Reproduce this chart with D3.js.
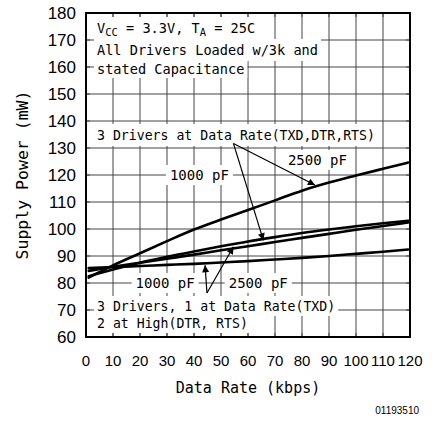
<!DOCTYPE html>
<html><head><meta charset="utf-8">
<script src="https://cdn.jsdelivr.net/npm/d3@7"></script>
<style>body{margin:0;background:#fff}svg{display:block}</style>
</head><body>
<svg id="c" width="433" height="429"></svg>
<script>
// ---- data ----
const xTicks = [0,10,20,30,40,50,60,70,80,90,100,110,120];
const yTicks = [60,70,80,90,100,110,120,130,140,150,160,170,180];
const rate = [1,10,20,30,40,50,60,70,80,90,100,110,119.3];
const p3drv2500 = [82,86.5,91,95.5,99.8,103.5,107,110.6,114.2,117.2,119.8,122.3,124.6];
const p3drv1000 = [82.5,85,87.5,89.7,91.7,93.6,95.4,97,98.5,99.8,101,102.1,103];
const p1drv2500 = [84.5,86,87.5,89,90.5,92.1,93.6,95.2,96.7,98.2,99.7,101.1,102.4];
const p1drv1000 = [85.5,85.9,86.3,86.7,87.1,87.6,88.1,88.7,89.3,90,90.8,91.6,92.4];
const series = [p3drv2500,p3drv1000,p1drv2500,p1drv1000];
// annotation arrows (data units): [from, to]
const arrows = [
  [[54.6,131.7],[84.8,116.3]],
  [[54.6,131.7],[65.7,95.8]],
  [[44.8,76.3],[44.1,86.6]],
  [[44.8,76.3],[54.6,93.4]]
];

const svg = d3.select('#c');
const L=86, R=410, T=13, B=337;
const x = d3.scaleLinear().domain([0,120]).range([L,R]);
const y = d3.scaleLinear().domain([60,180]).range([B,T]);
const mono = "'DejaVu Sans Mono', monospace";
const sans = "'Liberation Sans', Arial, sans-serif";

// grid
const g = svg.append('g');
g.selectAll('line.v').data(xTicks.slice(1,-1)).join('line')
  .attr('x1',d=>x(d)).attr('x2',d=>x(d)).attr('y1',T).attr('y2',B)
  .attr('stroke','#444').attr('stroke-width',1);
g.selectAll('line.h').data(yTicks.slice(1,-1)).join('line')
  .attr('x1',L).attr('x2',R).attr('y1',d=>y(d)).attr('y2',d=>y(d))
  .attr('stroke','#444').attr('stroke-width',1);

// labels with white boxes
const lab = svg.append('g');
function label(txt, px, py, opts={}) {
  const t = lab.append('text').attr('x',px).attr('y',py)
    .attr('font-family',mono).attr('font-size',opts.size||13.2)
    .attr('text-anchor',opts.anchor||'start').attr('dominant-baseline','central')
    .attr('fill','#000');
  if (typeof txt === 'string') t.text(txt);
  else txt.forEach(p=>{
    const s = t.append('tspan').text(p.t);
    if (p.sub) s.attr('font-size',10.5).attr('dy',4);
    if (p.up) s.attr('dy',-4);
  });
  const bb = t.node().getBBox();
  const ph = opts.ph==null?3:opts.ph, pv = opts.pv==null?2:opts.pv;
  lab.insert('rect','text:last-child')
    .attr('x',bb.x-ph).attr('y',opts.top!=null?opts.top:bb.y-pv)
    .attr('width',bb.width+2*ph)
    .attr('height',opts.h!=null?opts.h:bb.height+2*pv)
    .attr('fill','#fff');
  lab.node().appendChild(t.node());
  return t;
}
label([{t:'V'},{t:'CC',sub:true},{t:' = 3.3V, T',up:true},{t:'A',sub:true},{t:' = 25C',up:true}],97,28,{top:17,h:22,size:13.6});
label('All Drivers Loaded w/3k and',97,50,{top:39,h:22,size:13.6});
label('stated Capacitance',97,69,{top:60,h:18,size:13.6});
label('3 Drivers at Data Rate(TXD,DTR,RTS)',97,135,{top:124,h:22});
label('2500 pF',x(85.7),y(125.6),{anchor:'middle',size:14,ph:4});
label('1000 pF',x(42),y(120),{anchor:'middle',size:14,ph:4});
label('1000 pF',x(29.3),y(80),{anchor:'middle',size:14,ph:4});
label('2500 pF',x(63.8),y(80),{anchor:'middle',size:14,ph:4});
label('3 Drivers, 1 at Data Rate(TXD)',97,306.5,{top:296,h:20});
label('2 at High(DTR, RTS)',97,323,{top:314,h:19});

// inner ticks
const tk = svg.append('g').attr('stroke','#444').attr('stroke-width',1);
xTicks.slice(1,-1).forEach(d=>{
  tk.append('line').attr('x1',x(d)).attr('x2',x(d)).attr('y1',T).attr('y2',T+4);
  tk.append('line').attr('x1',x(d)).attr('x2',x(d)).attr('y1',B).attr('y2',B-4);
});
yTicks.slice(1,-1).forEach(d=>{
  tk.append('line').attr('x1',L).attr('x2',L+4).attr('y1',y(d)).attr('y2',y(d));
  tk.append('line').attr('x1',R).attr('x2',R-4).attr('y1',y(d)).attr('y2',y(d));
});

// curves
const line = d3.line().x((d,i)=>x(rate[i])).y(d=>y(d)).curve(d3.curveMonotoneX);
svg.append('g').selectAll('path').data(series).join('path')
  .attr('d',line).attr('fill','none').attr('stroke','#000').attr('stroke-width',2.6)
  .attr('stroke-linecap','round');

// arrows
svg.append('defs').append('marker').attr('id','ah').attr('viewBox','0 0 10 10')
  .attr('refX',10).attr('refY',5).attr('markerWidth',10).attr('markerHeight',7)
  .attr('markerUnits','userSpaceOnUse').attr('orient','auto')
  .append('path').attr('d','M0,0L10,5L0,10Z').attr('fill','#000');
svg.append('g').selectAll('line').data(arrows).join('line')
  .attr('x1',d=>x(d[0][0])).attr('y1',d=>y(d[0][1]))
  .attr('x2',d=>x(d[1][0])).attr('y2',d=>y(d[1][1]))
  .attr('stroke','#000').attr('stroke-width',1.2).attr('marker-end','url(#ah)');

// frame
svg.append('rect').attr('x',L).attr('y',T).attr('width',R-L).attr('height',B-T)
  .attr('fill','none').attr('stroke','#000').attr('stroke-width',2);

// tick labels
svg.append('g').selectAll('text').data(yTicks).join('text')
  .attr('x',76).attr('y',d=>y(d)).attr('dominant-baseline','central')
  .attr('text-anchor','end').attr('font-family',sans).attr('font-size',17)
  .text(d=>d);
svg.append('g').selectAll('text').data(xTicks).join('text')
  .attr('x',d=>x(d)).attr('y',360).attr('dominant-baseline','central')
  .attr('text-anchor','middle').attr('font-family',sans).attr('font-size',15)
  .text(d=>d);

// axis titles
svg.append('text').attr('transform',`translate(22,${(T+B)/2}) rotate(-90)`)
  .attr('text-anchor','middle').attr('dominant-baseline','central')
  .attr('font-family',mono).attr('font-size',16.5).text('Supply Power (mW)');
svg.append('text').attr('x',(L+R)/2).attr('y',388)
  .attr('text-anchor','middle').attr('dominant-baseline','central')
  .attr('font-family',mono).attr('font-size',15).text('Data Rate (kbps)');
svg.append('text').attr('x',419).attr('y',410)
  .attr('text-anchor','end').attr('dominant-baseline','central')
  .attr('font-family',sans).attr('font-size',10).text('01193510');
</script>
</body></html>
